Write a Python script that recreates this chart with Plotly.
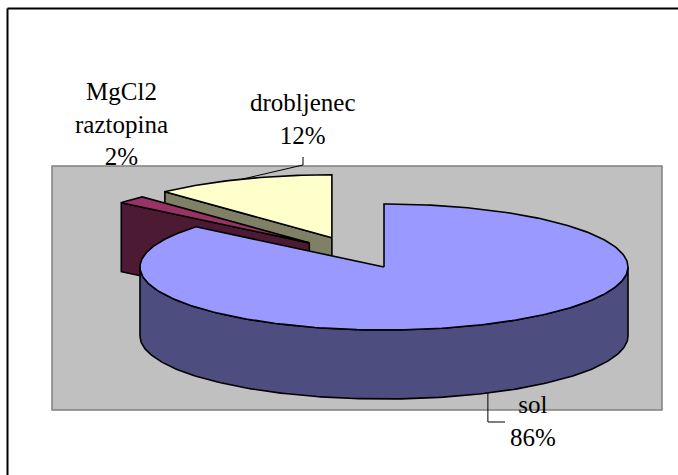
import numpy as np
import plotly.graph_objects as go

# ---- data ----
categories = ["sol", "MgCl2 raztopina", "drobljenec"]
label_lines = ["sol", "MgCl2<br>raztopina", "drobljenec"]
shares = [86, 2, 12]
pct_text = ["86%", "2%", "12%"]

# ---- style ----
top_colors = ["#9999FF", "#993366", "#FFFFCC"]
side_colors = ["#4D4D80", "#4D1A33", "#808066"]
# explosion of each slice along its bisector (horizontal, vertical factor)
explode = [(0.0, 0.0), (0.42, 0.56), (0.58, 0.5)]

W, H = 678, 475
CX, CY = 384, 267        # centre of the pie top
RX, RY = 244, 63         # ellipse radii of the tilted pie
DEPTH = 69               # pie thickness
PLOT_AREA = (52, 166, 662, 410)


def rim(cx, cy, ang, dz=0.0):
    t = np.radians(ang)
    return cx + RX * np.sin(t), cy - RY * np.cos(t) + dz


def arc(cx, cy, a0, a1, dz=0.0):
    n = max(2, int(abs(a1 - a0)) + 1)
    angs = np.linspace(a0, a1, n)
    xs, ys = rim(cx, cy, angs, dz)
    return list(xs), list(ys)


# angular extents, clockwise from 12 o'clock
total = float(sum(shares))
bounds = []
acc = 0.0
for v in shares:
    s = acc / total * 360.0
    acc += v
    e = acc / total * 360.0
    bounds.append((s, e))

slices = []
for i, (s, e) in enumerate(bounds):
    mid = (s + e) / 2
    t = np.radians(mid)
    ex, ey = explode[i]
    cx = CX + ex * RX * np.sin(t)
    cy = CY - ey * RY * np.cos(t)
    # depth key: screen y of a point half-way along the slice
    key = cy - 0.5 * RY * np.cos(t)
    slices.append(dict(i=i, s=s, e=e, mid=mid, cx=cx, cy=cy, key=key))

fig = go.Figure()


def add_poly(xs, ys, color):
    xs = list(xs) + [xs[0]]
    ys = list(ys) + [ys[0]]
    fig.add_trace(go.Scatter(
        x=xs, y=ys, mode="lines", fill="toself", fillcolor=color,
        line=dict(color="black", width=1.6), hoverinfo="skip", showlegend=False,
    ))


for sl in sorted(slices, key=lambda d: d["key"]):
    i, s, e, cx, cy = sl["i"], sl["s"], sl["e"], sl["cx"], sl["cy"]
    side = side_colors[i]
    # radial cut faces that turn toward the viewer
    for ang, normal in ((s, s - 90), (e, e + 90)):
        if np.cos(np.radians(normal)) < -1e-6:
            rx0, ry0 = rim(cx, cy, ang)
            add_poly([cx, rx0, rx0, cx], [cy, ry0, ry0 + DEPTH, cy + DEPTH], side)
    # outer wall on the front half
    lo, hi = max(s, 90.0), min(e, 270.0)
    if hi > lo:
        tx, ty = arc(cx, cy, lo, hi)
        bx, by = arc(cx, cy, hi, lo, DEPTH)
        add_poly(tx + bx, ty + by, side)
    # top face
    ax_, ay_ = arc(cx, cy, s, e)
    add_poly([cx] + ax_, [cy] + ay_, top_colors[i])

# ---- labels ----
label_font = dict(family="Times New Roman", size=25, color="black")
label_pos = {0: (533, 421), 1: (121, 124), 2: (303, 119)}
for sl in slices:
    i = sl["i"]
    lx, ly = label_pos[i]
    fig.add_annotation(
        x=lx, y=ly, xref="x", yref="y", showarrow=False,
        text=f"{label_lines[i]}<br>{pct_text[i]}", font=label_font,
        xanchor="center", yanchor="middle", align="center",
    )

# leader lines
d = slices[2]
ax0, ay0 = rim(d["cx"], d["cy"], d["mid"])
fig.add_trace(go.Scatter(
    x=[ax0, 303, 303], y=[ay0, 165, 157], mode="lines",
    line=dict(color="black", width=1), hoverinfo="skip", showlegend=False,
))
s0 = slices[0]
bx0, by0 = rim(s0["cx"], s0["cy"], s0["mid"], DEPTH)
fig.add_trace(go.Scatter(
    x=[bx0, bx0, 505], y=[by0, 422, 422], mode="lines",
    line=dict(color="black", width=1), hoverinfo="skip", showlegend=False,
))

# plot area and chart border (left and top edges fall inside the view)
x0, y0, x1, y1 = PLOT_AREA
fig.add_shape(type="rect", x0=x0, y0=y0, x1=x1, y1=y1, xref="x", yref="y",
              fillcolor="#C0C0C0", line=dict(color="#808080", width=1.5), layer="below")
fig.add_shape(type="line", x0=7.5, y0=8.5, x1=7.5, y1=H, xref="x", yref="y",
              line=dict(color="black", width=2), layer="below")
fig.add_shape(type="line", x0=7.5, y0=8.5, x1=W, y1=8.5, xref="x", yref="y",
              line=dict(color="black", width=2), layer="below")

fig.update_layout(
    width=W, height=H, autosize=False,
    margin=dict(l=0, r=0, t=0, b=0),
    paper_bgcolor="white", plot_bgcolor="white",
    font=dict(family="Times New Roman"),
    xaxis=dict(range=[0, W], visible=False, fixedrange=True),
    yaxis=dict(range=[H, 0], visible=False, fixedrange=True),
    showlegend=False,
)

fig.write_html("out.html")
